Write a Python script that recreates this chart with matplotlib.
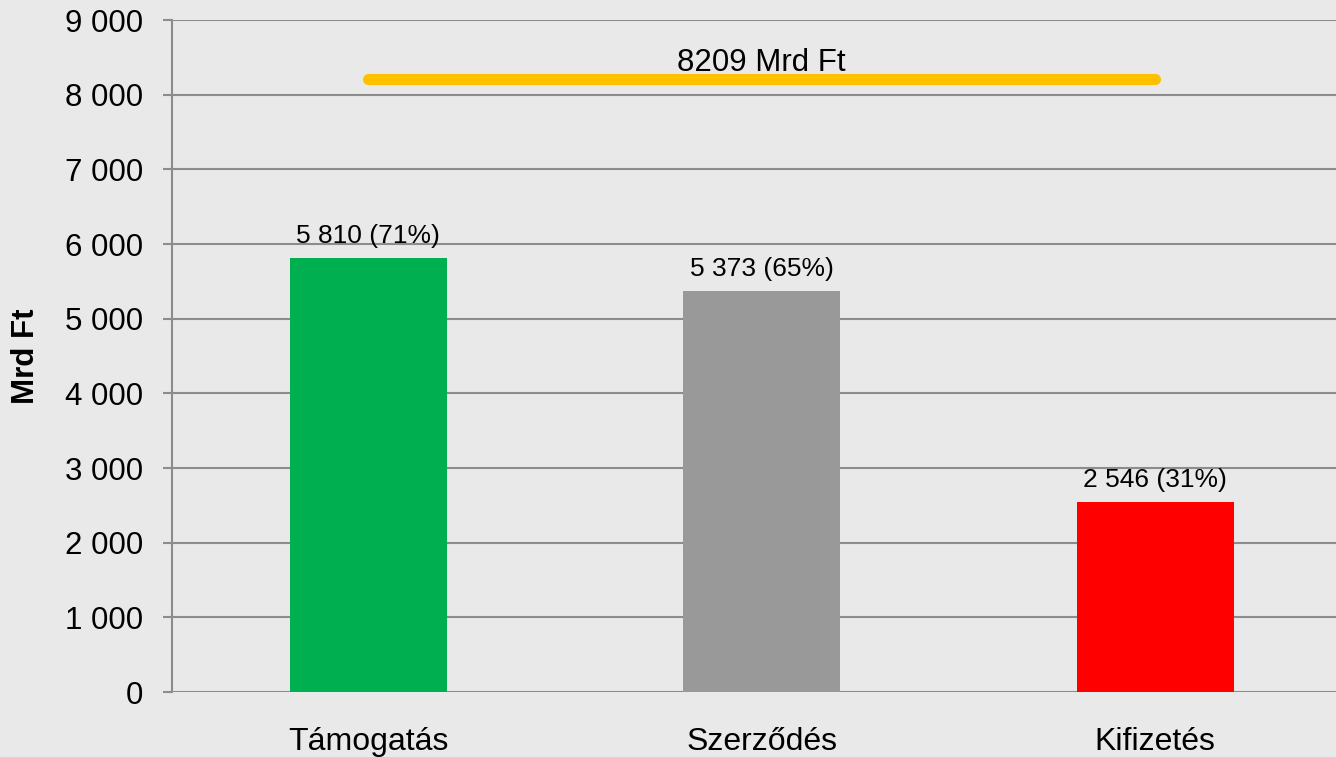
import matplotlib
matplotlib.use('Agg')
import matplotlib.pyplot as plt

categories = ['Támogatás', 'Szerződés', 'Kifizetés']
values = [5810, 5373, 2546]
total = 8209
bar_colors = ['#00B050', '#999999', '#FF0000']
yticks = [0, 1000, 2000, 3000, 4000, 5000, 6000, 7000, 8000, 9000]

plt.rcParams['font.family'] = ['Liberation Sans', 'DejaVu Sans']

bg = '#E8E9E8'
grid_col = '#8C8C8C'

fig = plt.figure(figsize=(13.36, 7.57), dpi=100)
fig.patch.set_facecolor(bg)
ax = fig.add_axes([171.5 / 1336, 65 / 757, (1352 - 171.5) / 1336, 672 / 757])
ax.set_facecolor(bg)

x = range(len(categories))
ax.bar(x, values, width=0.4, color=bar_colors, zorder=3)

# data labels above the bars
for i, v in enumerate(values):
    pct = round(v / total * 100)
    label = '{:,} ({}%)'.format(v, pct).replace(',', ' ')
    ax.annotate(label, (i, v), xytext=(0, 11), textcoords='offset points',
                ha='center', va='baseline', fontsize=19, color='black')

# total line
ax.plot([0, 2], [total, total], color='#FFC000', lw=8, solid_capstyle='round', zorder=4)
ax.annotate('{} Mrd Ft'.format(total), (1, total), xytext=(0, 6), textcoords='offset points',
            ha='center', va='baseline', fontsize=22.5)

ax.set_xlim(-0.5, 2.5)
ax.set_ylim(0, 9000)
ax.set_yticks(yticks)
ax.set_yticklabels(['{:,}'.format(t).replace(',', ' ') for t in yticks], fontsize=22.5)
ax.set_xticks(list(x))
ax.set_xticklabels(categories, fontsize=23)
ax.tick_params(axis='x', length=0, pad=25)
ax.tick_params(axis='y', length=6.5, width=1.5, color=grid_col, pad=14)

ax.yaxis.grid(True, color=grid_col, lw=1.5, zorder=0)
ax.set_axisbelow(True)
for s in ['top', 'right', 'bottom']:
    ax.spines[s].set_visible(False)
ax.spines['left'].set_color(grid_col)
ax.spines['left'].set_linewidth(1.5)

fig.text(26 / 1336, 1 - 356 / 757, 'Mrd Ft', rotation=90, fontsize=22.5, fontweight='bold',
         ha='center', va='center')

fig.savefig('out.png', dpi=100, facecolor=bg)
